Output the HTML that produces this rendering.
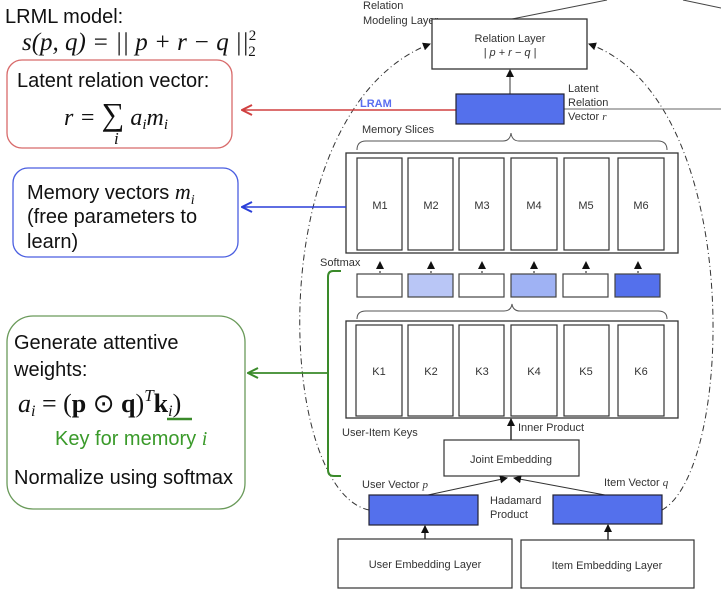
<!DOCTYPE html>
<html><head><meta charset="utf-8"><style>
html,body{margin:0;padding:0;background:#fff;}
svg{display:block;}
.s{font-family:"Liberation Sans",sans-serif;font-size:11px;fill:#333;}
.b{font-family:"Liberation Sans","DejaVu Sans",sans-serif;font-size:20px;fill:#111;}
.m{font-family:"Liberation Serif",serif;font-style:italic;fill:#111;}
</style></head><body>
<svg width="721" height="591" viewBox="0 0 721 591" xmlns="http://www.w3.org/2000/svg">
<defs>
<marker id="ak" markerWidth="8" markerHeight="8" refX="7" refY="4" orient="auto" markerUnits="userSpaceOnUse"><path d="M0,0 L8,4 L0,8 z" fill="#111"/></marker>
<marker id="ar" markerWidth="12" markerHeight="12" refX="11" refY="6" orient="auto" markerUnits="userSpaceOnUse"><path d="M1,1 L11,6 L1,11" fill="none" stroke="#d04040" stroke-width="2"/></marker>
<marker id="ab" markerWidth="12" markerHeight="12" refX="11" refY="6" orient="auto" markerUnits="userSpaceOnUse"><path d="M1,1 L11,6 L1,11" fill="none" stroke="#2a3fd8" stroke-width="2"/></marker>
<marker id="ag" markerWidth="12" markerHeight="12" refX="11" refY="6" orient="auto" markerUnits="userSpaceOnUse"><path d="M1,1 L11,6 L1,11" fill="none" stroke="#3a8a2a" stroke-width="2"/></marker>
</defs>

<text x="5" y="23" class="b">LRML model:</text>
<text x="22" y="50" class="m" font-size="25">s(p, q) = || p + r − q ||<tspan font-style="normal" font-size="15" dy="-10">2</tspan><tspan font-style="normal" font-size="15" dx="-8" dy="16">2</tspan></text>

<rect x="7" y="60" width="225" height="88" rx="15" fill="#fff" stroke="#d86a6a" stroke-width="1.3"/>
<text x="17" y="87" class="b" font-size="21">Latent relation vector:</text>
<text x="64" y="125" class="m" font-size="24">r = <tspan font-style="normal" font-size="32">∑</tspan> a<tspan font-size="15" dy="4">i</tspan><tspan dy="-4">m</tspan><tspan font-size="15" dy="4">i</tspan></text>
<text x="114" y="144" class="m" font-size="17">i</text>

<rect x="13" y="168" width="225" height="89" rx="15" fill="#fff" stroke="#4a5ee0" stroke-width="1.3"/>
<text x="27" y="199" class="b" font-size="21">Memory vectors <tspan class="m" font-size="22">m</tspan><tspan class="m" font-size="14" dy="5">i</tspan></text>
<text x="27" y="223" class="b" font-size="21">(free parameters to</text>
<text x="27" y="248" class="b" font-size="21">learn)</text>

<rect x="7" y="316" width="238" height="193" rx="26" fill="#fff" stroke="#6a9a5a" stroke-width="1.3"/>
<text x="14" y="349" class="b" font-size="21">Generate attentive</text>
<text x="14" y="376" class="b" font-size="21">weights:</text>
<text x="18" y="412" font-family="Liberation Serif,serif" font-size="26" fill="#111"><tspan font-style="italic">a</tspan><tspan font-style="italic" font-size="16" dy="4">i</tspan><tspan dy="-4"> = (</tspan><tspan font-weight="bold">p</tspan> ⊙ <tspan font-weight="bold">q</tspan>)<tspan font-style="italic" font-size="17" dy="-11">T</tspan><tspan font-weight="bold" dy="11">k</tspan><tspan font-style="italic" font-size="16" dy="4">i</tspan><tspan dy="-4">)</tspan></text>
<line x1="167" y1="419" x2="192" y2="419" stroke="#3a8a2a" stroke-width="2.5"/>
<text x="55" y="445" class="b" style="fill:#3a9a2a">Key for memory <tspan font-family="Liberation Serif,serif" font-style="italic">i</tspan></text>
<text x="14" y="484" class="b" font-size="21">Normalize using softmax</text>

<path d="M369,510 C275,490 260,110 430,44" fill="none" stroke="#333" stroke-width="1" stroke-dasharray="6,3,1,3" marker-end="url(#ak)"/>
<path d="M662,510 C735,470 745,100 589,44" fill="none" stroke="#333" stroke-width="1" stroke-dasharray="6,3,1,3" marker-end="url(#ak)"/>

<line x1="512" y1="19" x2="607" y2="0" stroke="#444" stroke-width="1"/>
<line x1="683" y1="0" x2="721" y2="8" stroke="#444" stroke-width="1"/>
<text x="363" y="9" class="s" font-size="10">Relation</text>
<text x="363" y="24" class="s" font-size="10">Modeling Layer</text>

<rect x="432" y="19" width="155" height="50" fill="#fff" stroke="#333" stroke-width="1.3"/>
<text x="510" y="42" class="s" text-anchor="middle">Relation Layer</text>
<text x="510" y="56" class="s" text-anchor="middle" font-family="Liberation Serif,serif" font-style="italic">| p + r − q |</text>
<line x1="510" y1="94" x2="510" y2="70" stroke="#333" marker-end="url(#ak)"/>

<line x1="456" y1="110" x2="242" y2="110" stroke="#d04040" stroke-width="1.6" marker-end="url(#ar)"/>
<line x1="564" y1="109" x2="721" y2="109" stroke="#666" stroke-width="1"/>
<text x="360" y="107" font-family="Liberation Sans,sans-serif" font-size="11" font-weight="bold" fill="#5a6ef0">LRAM</text>
<rect x="456" y="94" width="108" height="30" fill="#5470ec" stroke="#223" stroke-width="1.2"/>
<text x="568" y="92" class="s">Latent</text>
<text x="568" y="106" class="s">Relation</text>
<text x="568" y="120" class="s">Vector <tspan font-family="Liberation Serif,serif" font-style="italic">r</tspan></text>

<text x="362" y="133" class="s">Memory Slices</text>
<path d="M357,150 Q357,141 366,141 L503,141 Q510,141 511,133 Q512,141 519,141 L658,141 Q667,141 667,150" fill="none" stroke="#555"/>

<rect x="346" y="153" width="332" height="100" fill="#fff" stroke="#333" stroke-width="1.3"/>
<g fill="#fff" stroke="#333" stroke-width="1.2">
<rect x="357" y="158" width="45" height="92"/><rect x="408" y="158" width="45" height="92"/><rect x="459" y="158" width="45" height="92"/><rect x="511" y="158" width="46" height="92"/><rect x="564" y="158" width="45" height="92"/><rect x="618" y="158" width="46" height="92"/>
</g>
<g class="s" text-anchor="middle"><text x="380" y="209">M1</text><text x="431" y="209">M2</text><text x="482" y="209">M3</text><text x="534" y="209">M4</text><text x="586" y="209">M5</text><text x="641" y="209">M6</text></g>
<line x1="346" y1="207" x2="242" y2="207" stroke="#2a3fd8" stroke-width="1.6" marker-end="url(#ab)"/>

<text x="320" y="266" class="s">Softmax</text>
<g stroke="#111" stroke-dasharray="2,2">
<line x1="380" y1="273" x2="380" y2="262" marker-end="url(#ak)"/><line x1="431" y1="273" x2="431" y2="262" marker-end="url(#ak)"/><line x1="482" y1="273" x2="482" y2="262" marker-end="url(#ak)"/><line x1="534" y1="273" x2="534" y2="262" marker-end="url(#ak)"/><line x1="586" y1="273" x2="586" y2="262" marker-end="url(#ak)"/><line x1="638" y1="273" x2="638" y2="262" marker-end="url(#ak)"/>
</g>
<g stroke="#444" stroke-width="1.2">
<rect x="357" y="274" width="45" height="23" fill="#fff"/><rect x="408" y="274" width="45" height="23" fill="#b9c6f6"/><rect x="459" y="274" width="45" height="23" fill="#fff"/><rect x="511" y="274" width="45" height="23" fill="#9fb2f4"/><rect x="563" y="274" width="45" height="23" fill="#fff"/><rect x="615" y="274" width="45" height="23" fill="#5470ec"/>
</g>

<path d="M357,319 Q357,311 366,311 L504,311 Q511,311 512,304 Q513,311 520,311 L658,311 Q667,311 667,319" fill="none" stroke="#555"/>
<rect x="346" y="321" width="332" height="97" fill="#fff" stroke="#333" stroke-width="1.3"/>
<g fill="#fff" stroke="#333" stroke-width="1.2">
<rect x="356" y="325" width="46" height="91"/><rect x="408" y="325" width="45" height="91"/><rect x="459" y="325" width="45" height="91"/><rect x="511" y="325" width="46" height="91"/><rect x="564" y="325" width="45" height="91"/><rect x="618" y="325" width="46" height="91"/>
</g>
<g class="s" text-anchor="middle"><text x="379" y="375">K1</text><text x="431" y="375">K2</text><text x="482" y="375">K3</text><text x="534" y="375">K4</text><text x="586" y="375">K5</text><text x="641" y="375">K6</text></g>

<path d="M341,271 L333,271 Q328,271 328,277 L328,470 Q328,476 334,476 L341,476" fill="none" stroke="#3a8a2a" stroke-width="2"/>
<line x1="328" y1="373" x2="248" y2="373" stroke="#3a8a2a" stroke-width="1.8" marker-end="url(#ag)"/>

<text x="342" y="436" class="s">User-Item Keys</text>
<line x1="511" y1="440" x2="511" y2="419" stroke="#111" stroke-width="1.3" marker-end="url(#ak)"/>
<text x="518" y="431" class="s">Inner Product</text>
<rect x="444" y="440" width="135" height="36" fill="#fff" stroke="#333" stroke-width="1.2"/>
<text x="511" y="463" class="s" text-anchor="middle">Joint Embedding</text>

<text x="362" y="488" class="s">User Vector <tspan font-family="Liberation Serif,serif" font-style="italic">p</tspan></text>
<text x="604" y="486" class="s">Item Vector <tspan font-family="Liberation Serif,serif" font-style="italic">q</tspan></text>
<text x="490" y="504" class="s">Hadamard</text>
<text x="490" y="518" class="s">Product</text>
<line x1="428" y1="495" x2="507" y2="478" stroke="#333" marker-end="url(#ak)"/>
<line x1="605" y1="495" x2="514" y2="478" stroke="#333" marker-end="url(#ak)"/>
<rect x="369" y="495" width="109" height="30" fill="#5470ec" stroke="#223" stroke-width="1.2"/>
<rect x="553" y="495" width="109" height="29" fill="#5470ec" stroke="#223" stroke-width="1.2"/>

<line x1="425" y1="539" x2="425" y2="526" stroke="#111" stroke-width="1.3" marker-end="url(#ak)"/>
<line x1="608" y1="540" x2="608" y2="525" stroke="#111" stroke-width="1.3" marker-end="url(#ak)"/>
<rect x="338" y="539" width="174" height="49" fill="#fff" stroke="#333" stroke-width="1.2"/>
<rect x="521" y="540" width="173" height="48" fill="#fff" stroke="#333" stroke-width="1.2"/>
<text x="425" y="568" class="s" text-anchor="middle">User Embedding Layer</text>
<text x="607" y="569" class="s" text-anchor="middle">Item Embedding Layer</text>
</svg>
</body></html>
